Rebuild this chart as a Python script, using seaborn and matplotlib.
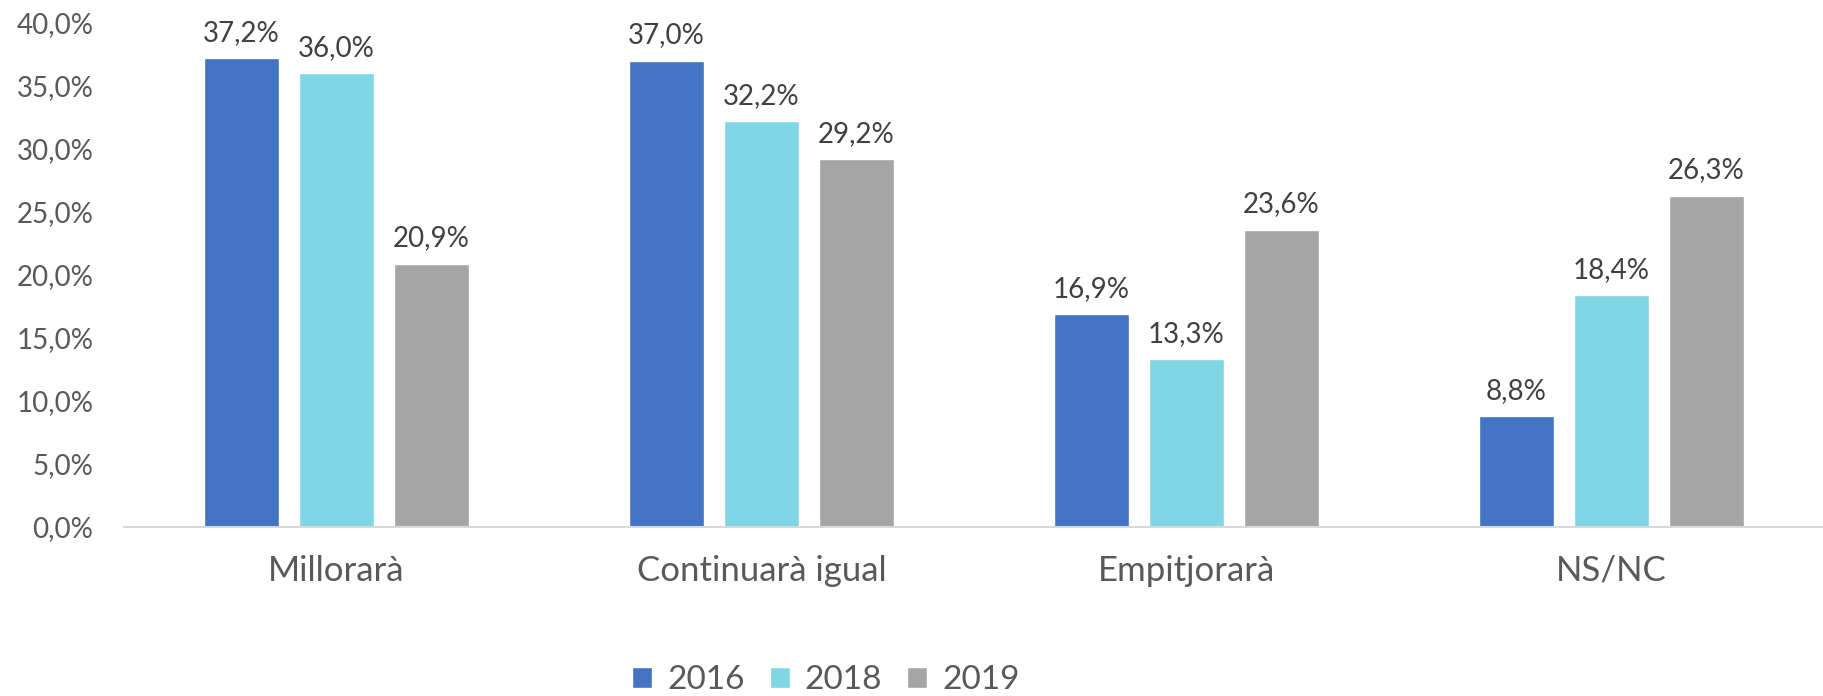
import matplotlib
matplotlib.use("Agg")
import matplotlib.pyplot as plt
import seaborn as sns
import pandas as pd
from matplotlib.patches import Patch

categories = ["Millorarà", "Continuarà igual", "Empitjorarà", "NS/NC"]
years = ["2016", "2018", "2019"]
values_2016 = [37.2, 37.0, 16.9, 8.8]
values_2018 = [36.0, 32.2, 13.3, 18.4]
values_2019 = [20.9, 29.2, 23.6, 26.3]
colors = ["#4472C4", "#7FD6E4", "#A5A5A5"]

rows = []
for y, vals in zip(years, [values_2016, values_2018, values_2019]):
    for c, v in zip(categories, vals):
        rows.append({"cat": c, "year": y, "value": v})
df = pd.DataFrame(rows)

sns.set_theme(style="white")
plt.rcParams["font.family"] = ["Lato", "DejaVu Sans"]

fig = plt.figure(figsize=(18.24, 6.96), dpi=100)
ax = fig.add_axes([124/1824, 1 - 527/696, 1 - 124/1824, (527 - 23)/696])

sns.barplot(data=df, x="cat", y="value", hue="year", palette=colors,
            order=categories, hue_order=years, width=0.671, gap=0.21,
            ax=ax, legend=False, saturation=1)

for cont in ax.containers:
    ax.bar_label(cont, labels=[f"{v:.1f}%".replace(".", ",") for v in cont.datavalues],
                 padding=9, fontsize=20, color="#404040")

ax.set_ylim(0, 40)
ax.set_yticks(range(0, 41, 5))
ax.set_yticklabels([f"{t:.1f}%".replace(".", ",") for t in range(0, 41, 5)],
                   fontsize=20, color="#595959")
ax.tick_params(axis="y", length=0, pad=22)
ax.tick_params(axis="x", length=0, pad=20, labelsize=25, labelcolor="#595959")
ax.set_xlabel("")
ax.set_ylabel("")
for s in ["top", "right", "left"]:
    ax.spines[s].set_visible(False)
ax.spines["bottom"].set_color("#D9D9D9")
ax.spines["bottom"].set_linewidth(1.5)
ax.grid(False)

handles = [Patch(facecolor=c, label=y) for c, y in zip(colors, years)]
fig.legend(handles=handles, loc="center", bbox_to_anchor=(826/1824, 1 - 680/696),
           ncol=3, frameon=False, fontsize=24, labelcolor="#595959",
           handlelength=0.6, handleheight=0.6, handletextpad=0.45, columnspacing=0.75)

fig.savefig("out.png", dpi=100)
